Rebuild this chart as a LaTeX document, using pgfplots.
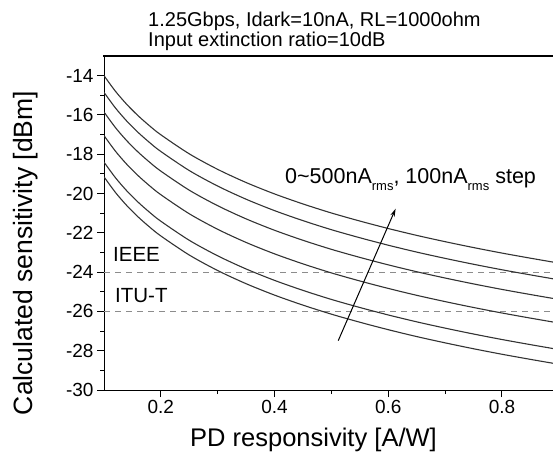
\documentclass[border=0pt]{standalone}
\usepackage{pgfplots}
\pgfplotsset{compat=1.18}
\usepackage{fontspec}
\setmainfont{Liberation Sans}
\usetikzlibrary{arrows.meta}

\begin{document}
\begin{tikzpicture}
\path[use as bounding box] (0,0) rectangle (553pt,459pt);
\begin{axis}[
    at={(104pt,69pt)}, anchor=south west,
    width=454pt, height=334pt, scale only axis,
    xmin=0.1, xmax=0.8986, ymin=-30, ymax=-13,
    axis lines=box,
    axis line style={line width=1pt},
    xtick={0.2,0.4,0.6,0.8}, xticklabels={0.2,0.4,0.6,0.8},
    minor xtick={0.3,0.5,0.7},
    ytick={-30,-28,...,-14},
    minor ytick={-29,-27,...,-15},
    xtick pos=bottom, ytick pos=left,
    tick align=outside,
    major tick length=7pt, minor tick length=4pt,
    every tick/.style={black, line width=1pt},
    /pgf/number format/assume math mode=true,
    ticklabel style={font=\fontsize{19}{19}\selectfont},
]
% IEEE / ITU-T limits
\addplot[black!45, line width=1.1pt, dash pattern=on 6pt off 5pt] coordinates {(0.1,-24) (0.9,-24)};
\addplot[black!45, line width=1.1pt, dash pattern=on 6pt off 5pt] coordinates {(0.1,-26) (0.9,-26)};

% 500 nA
\addplot[black!80, line width=1.1pt, smooth] coordinates {
(0.10,-14.00) (0.12,-14.79) (0.14,-15.46) (0.16,-16.04) (0.18,-16.55) (0.20,-17.01)
(0.25,-17.98) (0.30,-18.77) (0.35,-19.44) (0.40,-20.02) (0.45,-20.53) (0.50,-20.99)
(0.55,-21.40) (0.60,-21.78) (0.65,-22.13) (0.70,-22.45) (0.75,-22.75) (0.80,-23.03)
(0.85,-23.29) (0.90,-23.54)};
% 400 nA
\addplot[black!80, line width=1.1pt, smooth] coordinates {
(0.10,-14.85) (0.12,-15.64) (0.14,-16.31) (0.16,-16.89) (0.18,-17.40) (0.20,-17.86)
(0.25,-18.83) (0.30,-19.62) (0.35,-20.29) (0.40,-20.87) (0.45,-21.38) (0.50,-21.84)
(0.55,-22.25) (0.60,-22.63) (0.65,-22.98) (0.70,-23.30) (0.75,-23.60) (0.80,-23.88)
(0.85,-24.14) (0.90,-24.39)};
% 300 nA
\addplot[black!80, line width=1.1pt, smooth] coordinates {
(0.10,-15.85) (0.12,-16.64) (0.14,-17.31) (0.16,-17.89) (0.18,-18.40) (0.20,-18.86)
(0.25,-19.83) (0.30,-20.62) (0.35,-21.29) (0.40,-21.87) (0.45,-22.38) (0.50,-22.84)
(0.55,-23.25) (0.60,-23.63) (0.65,-23.98) (0.70,-24.30) (0.75,-24.60) (0.80,-24.88)
(0.85,-25.14) (0.90,-25.39)};
% 200 nA
\addplot[black!80, line width=1.1pt, smooth] coordinates {
(0.10,-17.05) (0.12,-17.84) (0.14,-18.51) (0.16,-19.09) (0.18,-19.60) (0.20,-20.06)
(0.25,-21.03) (0.30,-21.82) (0.35,-22.49) (0.40,-23.07) (0.45,-23.58) (0.50,-24.04)
(0.55,-24.45) (0.60,-24.83) (0.65,-25.18) (0.70,-25.50) (0.75,-25.80) (0.80,-26.08)
(0.85,-26.34) (0.90,-26.59)};
% 100 nA
\addplot[black!80, line width=1.1pt, smooth] coordinates {
(0.10,-18.40) (0.12,-19.19) (0.14,-19.86) (0.16,-20.44) (0.18,-20.95) (0.20,-21.41)
(0.25,-22.38) (0.30,-23.17) (0.35,-23.84) (0.40,-24.42) (0.45,-24.93) (0.50,-25.39)
(0.55,-25.80) (0.60,-26.18) (0.65,-26.53) (0.70,-26.85) (0.75,-27.15) (0.80,-27.43)
(0.85,-27.69) (0.90,-27.94)};
% 0 nA
\addplot[black!80, line width=1.1pt, smooth] coordinates {
(0.10,-19.15) (0.12,-19.94) (0.14,-20.61) (0.16,-21.19) (0.18,-21.70) (0.20,-22.16)
(0.25,-23.13) (0.30,-23.92) (0.35,-24.59) (0.40,-25.17) (0.45,-25.68) (0.50,-26.14)
(0.55,-26.55) (0.60,-26.93) (0.65,-27.28) (0.70,-27.60) (0.75,-27.90) (0.80,-28.18)
(0.85,-28.44) (0.90,-28.69)};

\draw[black, line width=1pt, -{Stealth[length=8pt,width=4.5pt]}] (axis cs:0.512,-27.49) -- (axis cs:0.613,-20.77);
\end{axis}
% top frame line
\draw[black, line width=1.3pt] (103.35pt,403pt) -- (553pt,403pt);

% titles and labels
\node[anchor=base west, inner sep=0pt, font=\fontsize{20}{20}\selectfont] at (148pt,432pt) {1.25Gbps, Idark=10nA, RL=1000ohm};
\node[anchor=base west, inner sep=0pt, font=\fontsize{20}{20}\selectfont] at (148pt,412pt) {Input extinction ratio=10dB};
\node[anchor=base, inner sep=0pt, font=\fontsize{25.5}{25.5}\selectfont] at (313.5pt,13pt) {PD responsivity [A/W]};
\node[anchor=base, rotate=90, inner sep=0pt, font=\fontsize{26.5}{26.5}\selectfont] at (32pt,206pt) {Calculated sensitivity [dBm]};
\node[anchor=base west, inner sep=0pt, font=\fontsize{20.5}{20.5}\selectfont] at (113pt,198pt) {IEEE};
\node[anchor=base west, inner sep=0pt, font=\fontsize{20.5}{20.5}\selectfont] at (115pt,157pt) {ITU-T};
\node[anchor=base west, inner sep=0pt, font=\fontsize{21.5}{21.5}\selectfont] at (285pt,276pt)
  {0\textasciitilde500nA\raisebox{-7pt}{\fontsize{13}{13}\selectfont rms}, 100nA\raisebox{-7pt}{\fontsize{13}{13}\selectfont rms} step};
\end{tikzpicture}
\end{document}
